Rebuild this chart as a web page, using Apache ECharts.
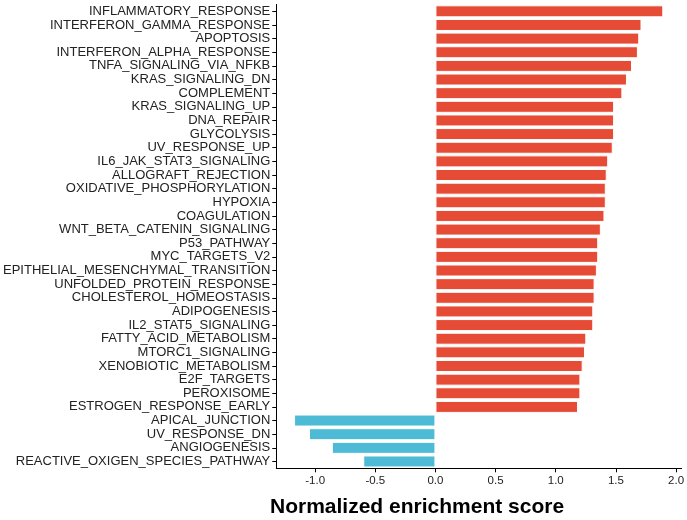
<!DOCTYPE html>
<html>
<head>
<meta charset="utf-8">
<script src="https://cdn.jsdelivr.net/npm/echarts@6/dist/echarts.min.js"></script>
<style>html,body{margin:0;padding:0;background:#fff}#c{width:687px;height:520px}</style>
</head>
<body>
<div id="c"></div>
<script>
const categories = [
  "INFLAMMATORY_RESPONSE","INTERFERON_GAMMA_RESPONSE","APOPTOSIS","INTERFERON_ALPHA_RESPONSE",
  "TNFA_SIGNALING_VIA_NFKB","KRAS_SIGNALING_DN","COMPLEMENT","KRAS_SIGNALING_UP","DNA_REPAIR",
  "GLYCOLYSIS","UV_RESPONSE_UP","IL6_JAK_STAT3_SIGNALING","ALLOGRAFT_REJECTION",
  "OXIDATIVE_PHOSPHORYLATION","HYPOXIA","COAGULATION","WNT_BETA_CATENIN_SIGNALING","P53_PATHWAY",
  "MYC_TARGETS_V2","EPITHELIAL_MESENCHYMAL_TRANSITION","UNFOLDED_PROTEIN_RESPONSE",
  "CHOLESTEROL_HOMEOSTASIS","ADIPOGENESIS","IL2_STAT5_SIGNALING","FATTY_ACID_METABOLISM",
  "MTORC1_SIGNALING","XENOBIOTIC_METABOLISM","E2F_TARGETS","PEROXISOME","ESTROGEN_RESPONSE_EARLY",
  "APICAL_JUNCTION","UV_RESPONSE_DN","ANGIOGENESIS","REACTIVE_OXIGEN_SPECIES_PATHWAY"
];
const nes = [
  1.894, 1.713, 1.694, 1.683, 1.634, 1.592, 1.554, 1.485, 1.485, 1.485, 1.474, 1.436, 1.424,
  1.416, 1.416, 1.405, 1.375, 1.353, 1.353, 1.342, 1.323, 1.323, 1.312, 1.312,
  1.254, 1.243, 1.224, 1.205, 1.205, 1.185,
  -1.175, -1.051, -0.861, -0.600
];
const xTicks = [-1.0, -0.5, 0.0, 0.5, 1.0, 1.5, 2.0];
const upColor = "#E64B35", downColor = "#4DBBD5";

const chart = echarts.init(document.getElementById('c'));
chart.setOption({
  animation: false,
  grid: { left: 274, right: 4.3, top: 4.5, bottom: 51.7, containLabel: false },
  xAxis: {
    type: 'value', min: -1.323, max: 2.046, interval: 0.5,
    axisLine: { show: true, onZero: false, lineStyle: { color: '#000', width: 1 } },
    axisTick: { show: true, length: 4, lineStyle: { color: '#000' },
      customValues: xTicks },
    axisLabel: { color: '#222', fontSize: 11.5, fontFamily: 'Liberation Sans, Arial', margin: 7,
      customValues: xTicks, formatter: v => v.toFixed(1) },
    splitLine: { show: false }
  },
  yAxis: {
    type: 'category', data: categories, inverse: true,
    axisLine: { show: true, onZero: false, lineStyle: { color: '#000', width: 1 } },
    axisTick: { show: true, length: 4, alignWithLabel: true, lineStyle: { color: '#000' } },
    axisLabel: { color: '#222', fontSize: 13, fontFamily: 'Liberation Sans, Arial', margin: 6, interval: 0 }
  },
  title: {
    text: 'Normalized enrichment score', left: 265, top: 492,
    textStyle: { fontSize: 21, fontWeight: 'bold', color: '#000', fontFamily: 'Liberation Sans, Arial' }
  },
  series: [{
    type: 'bar',
    data: nes.map(v => ({ value: v, itemStyle: { color: v >= 0 ? upColor : downColor } })),
    barCategoryGap: '12%',
    itemStyle: { borderColor: '#fff', borderWidth: 1 }
  }]
});
</script>
</body>
</html>
